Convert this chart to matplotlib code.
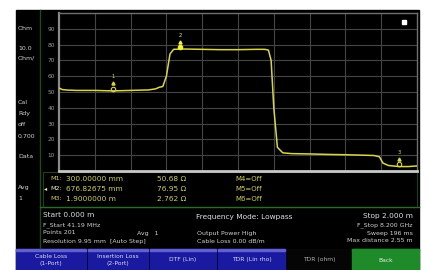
import matplotlib
matplotlib.use('Agg')
import matplotlib.pyplot as plt
from matplotlib.patches import Rectangle

# trace: distance (m) vs impedance (ohm)
dist = [0.0, 0.02, 0.05, 0.1, 0.2, 0.3, 0.4, 0.5, 0.54, 0.56, 0.58, 0.6, 0.62, 0.64,
        0.7, 0.8, 0.9, 1.0, 1.1, 1.15, 1.17, 1.185, 1.2, 1.22, 1.25, 1.3, 1.4, 1.5,
        1.6, 1.7, 1.76, 1.79, 1.81, 1.84, 1.9, 1.95, 2.0]
ohm = [52.5, 51.5, 51.2, 51.0, 51.0, 50.7, 51.0, 51.3, 52.0, 53.0, 53.5, 60.0, 74.0, 77.0,
       77.2, 77.0, 76.8, 76.8, 77.0, 77.0, 76.5, 70.0, 40.0, 15.0, 11.5, 11.0, 10.8, 10.5,
       10.3, 10.0, 9.8, 9.0, 5.0, 3.5, 2.8, 2.8, 3.2]

marker_names = ['1', '2', '3']
marker_x = [0.3, 0.6768, 1.9]
marker_y = [50.68, 76.95, 2.762]

yticks = [10, 20, 30, 40, 50, 60, 70, 80, 90]

table_rows = [('M1:', '300.00000 mm', '50.68 Ω', 'M4=Off'),
              ('M2:', '676.82675 mm', '76.95 Ω', 'M5=Off'),
              ('M3:', '1.9000000 m', '2.762 Ω', 'M6=Off')]

side_text = [('Ohm', 29), ('10.0', 48), ('Ohm/', 58), ('Cal', 103), ('Rdy', 113),
             ('off', 124), ('0.700', 136), ('Data', 157), ('Avg', 188), ('1', 199)]

buttons = [('Cable Loss\n(1-Port)', 16, 86), ('Insertion Loss\n(2-Port)', 88, 148),
           ('DTF (Lin)', 150, 216), ('TDR (Lin rho)', 218, 285),
           ('TDR (ohm)', 288, 351), ('Back', 352, 419)]

W, H = 428, 270
fig = plt.figure(figsize=(W / 100, H / 100), dpi=100)
fig.patch.set_facecolor('white')

bg = fig.add_axes([0, 0, 1, 1])
bg.set_xlim(0, W)
bg.set_ylim(H, 0)
bg.axis('off')

# screen
bg.add_patch(Rectangle((16, 10), 403, 260, color='black'))
bg.plot([40, 40], [10, 248], color='#1d4a1d', lw=1)
# marker table box
bg.add_patch(Rectangle((43, 172), 374, 35, fill=False, ec='#1f3f1f', lw=0.8))
bg.plot([40, 419], [207, 207], color='#2c6a2c', lw=1)

txt = dict(fontsize=4.5, color='#d0d0d0', va='center')
for s, y in side_text:
    bg.text(18, y, s, **txt)

yel = '#cfcf5a'
for i, (m, d, z, o) in enumerate(table_rows):
    y = 179 + i * 10
    col = '#f0f0c0' if i == 1 else yel
    bg.text(50, y, m, fontsize=4.6, color=col, va='center')
    bg.text(66, y, d, fontsize=5.3, color=yel, va='center')
    bg.text(157, y, z, fontsize=5.3, color=yel, va='center')
    bg.text(235, y, o, fontsize=5.0, color=yel, va='center')
bg.text(44, 189, '◂', fontsize=4.5, color='#f0f0c0', va='center')

bg.text(43, 215, 'Start 0.000 m', fontsize=5.3, color='#e0e0e0', va='center')
bg.text(43, 225, 'F_Start 41.19 MHz', **txt)
bg.text(43, 233, 'Points 201', **txt)
bg.text(43, 241, 'Resolution 9.95 mm  [Auto Step]', **txt)
bg.text(137, 233, 'Avg   1', **txt)
bg.text(196, 217, 'Frequency Mode: Lowpass', fontsize=5.3, color='#e0e0e0', va='center')
bg.text(197, 233, 'Output Power High', **txt)
bg.text(197, 241, 'Cable Loss 0.00 dB/m', **txt)
bg.text(413, 216, 'Stop 2.000 m', fontsize=5.3, color='#e0e0e0', va='center', ha='right')
bg.text(413, 225, 'F_Stop 8.200 GHz', ha='right', **txt)
bg.text(413, 233, 'Sweep 196 ms', ha='right', **txt)
bg.text(413, 241, 'Max distance 2.55 m', ha='right', **txt)

for label, x0, x1 in buttons:
    if label == 'TDR (ohm)':
        fc, tc = '#050505', '#b0b0b0'
    elif label == 'Back':
        fc, tc = '#1f8a2a', '#e8f0e8'
    else:
        fc, tc = '#1a1aa0', '#d8d8f0'
    bg.add_patch(Rectangle((x0, 249), x1 - x0, 21, color=fc))
    bg.add_patch(Rectangle((x0, 249), x1 - x0, 2, color='#6060d0' if fc == '#1a1aa0' else fc))
    bg.text((x0 + x1) / 2, 260, label, fontsize=4.3, color=tc, ha='center', va='center',
            linespacing=1.5)

# plot area
L, R, T, B = 59, 417, 13, 171
ax = fig.add_axes([L / W, 1 - B / H, (R - L) / W, (B - T) / H])
ax.set_facecolor('black')
ax.set_xlim(0, 2.0)
ax.set_ylim(0, 100)
ax.set_xticks([i * 0.2 for i in range(1, 10)])
ax.set_yticks(yticks)
ax.set_xticklabels([])
ax.set_yticklabels([str(v) for v in yticks])
ax.grid(True, color='#454545', lw=0.8)
ax.tick_params(length=0, pad=3, labelsize=4.2, labelcolor='#9a9a9a')
for side in ['top', 'right']:
    ax.spines[side].set_color('#707070')
    ax.spines[side].set_linewidth(1)
ax.spines['left'].set_color('#8a8a8a')
ax.spines['left'].set_linewidth(1.6)
ax.spines['bottom'].set_color('#c8c8c8')
ax.spines['bottom'].set_linewidth(2)

ax.plot(dist, ohm, color='#d8d548', lw=1.1, zorder=3)
for n, mx, my in zip(marker_names, marker_x, marker_y):
    c = '#f4f430' if n == '2' else '#d8d548'
    ax.plot(mx, my + 1.5, marker='o', ms=3.2, mfc='none' if n != '2' else c, mec=c, mew=0.8, zorder=4)
    ax.plot(mx, my + 5, marker='^', ms=2.2, color=c, zorder=4)
    ax.text(mx, my + 9, n, fontsize=3.8, color=c, ha='center', va='center', zorder=4)

# status indicator, top right of the graticule
ax.plot(0.965, 0.94, marker='s', ms=2.2, color='white', transform=ax.transAxes)

fig.savefig('out.png', dpi=100, facecolor=fig.get_facecolor())
